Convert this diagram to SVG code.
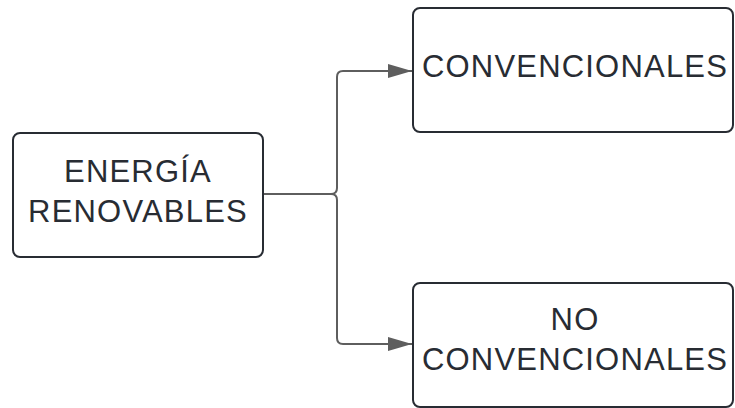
<svg xmlns="http://www.w3.org/2000/svg" width="735" height="408" viewBox="0 0 735 408">
  <style>
    .box { fill: #ffffff; stroke: #282c33; stroke-width: 2; }
    .lbl { font-family: "Liberation Sans", Arial, sans-serif; font-size: 31px; fill: #282c33; text-anchor: middle; letter-spacing: 1.2px; }
    .wire { fill: none; stroke: #5e5e5e; stroke-width: 2; }
  </style>
  <defs>
    <marker id="head" markerWidth="24" markerHeight="14" refX="24" refY="7" orient="auto" markerUnits="userSpaceOnUse">
      <path d="M0,0 L24,7 L0,14 Z" fill="#5e5e5e"/>
    </marker>
  </defs>
  <rect width="735" height="408" fill="#ffffff"/>

  <g id="connectors">
    <path class="wire" d="M263,194 H331 Q337,194 337,188 V77 Q337,71 343,71 H412" marker-end="url(#head)"/>
    <path class="wire" d="M263,194 H331 Q337,194 337,200 V338 Q337,344 343,344 H412" marker-end="url(#head)"/>
  </g>

  <g id="energia">
    <rect class="box" x="13" y="133" width="250" height="124" rx="7"/>
    <text class="lbl" x="138" y="182">ENERGÍA</text>
    <text class="lbl" x="138" y="222">RENOVABLES</text>
  </g>

  <g id="convencionales">
    <rect class="box" x="413" y="8" width="320" height="124" rx="7"/>
    <text class="lbl" x="575" y="77">CONVENCIONALES</text>
  </g>

  <g id="no-convencionales">
    <rect class="box" x="413" y="283" width="320" height="124" rx="7"/>
    <text class="lbl" x="575" y="330">NO</text>
    <text class="lbl" x="575" y="370">CONVENCIONALES</text>
  </g>
</svg>
